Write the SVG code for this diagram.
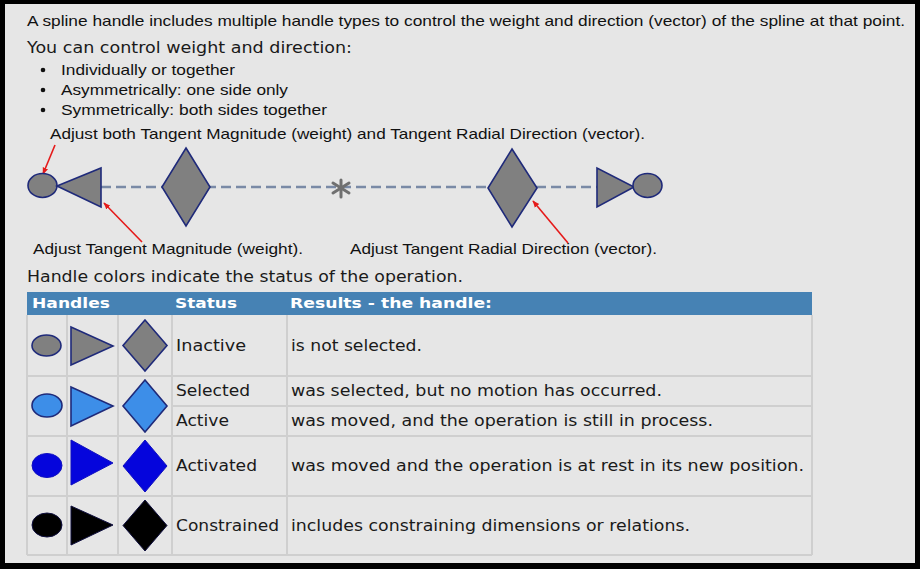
<svg xmlns="http://www.w3.org/2000/svg" width="920" height="569" viewBox="0 0 920 569">
<defs>
<style>
.ar{font-family:"Liberation Sans",Arial,sans-serif;font-size:15px;fill:#111}
.vd{font-family:"DejaVu Sans",Verdana,sans-serif;font-size:15px;fill:#1a1a1a}
.hd{font-family:"DejaVu Sans",Verdana,sans-serif;font-size:14px;font-weight:bold;fill:#ffffff}
.sh{stroke:#1f2a7a;stroke-width:1.6}
.gray{fill:#808080}
.lblue{fill:#3d8ee8}
.blue{fill:#0505dc}
.blk{fill:#000000}
.grid{stroke:#cfcfcf;stroke-width:2;fill:none}
.red{stroke:#e51a1a;stroke-width:1.6;fill:none}
</style>
<marker id="ah" viewBox="0 0 10 10" refX="9" refY="5" markerWidth="7" markerHeight="7" orient="auto" markerUnits="userSpaceOnUse">
<path d="M0,1 L10,5 L0,9 z" fill="#e51a1a"/>
</marker>
</defs>
<rect x="0" y="0" width="920" height="569" fill="#000"/>
<rect x="5" y="4" width="910" height="559" fill="#e6e6e6"/>

<g id="intro">
<text class="ar" x="27" y="26" textLength="878" lengthAdjust="spacingAndGlyphs">A spline handle includes multiple handle types to control the weight and direction (vector) of the spline at that point.</text>
<text class="vd" x="27" y="53" textLength="325" lengthAdjust="spacingAndGlyphs">You can control weight and direction:</text>
<circle cx="43" cy="70" r="2.3" fill="#111"/>
<circle cx="43" cy="90" r="2.3" fill="#111"/>
<circle cx="43" cy="110" r="2.3" fill="#111"/>
<text class="ar" x="61" y="75" textLength="174" lengthAdjust="spacingAndGlyphs">Individually or together</text>
<text class="ar" x="61" y="95" textLength="227" lengthAdjust="spacingAndGlyphs">Asymmetrically: one side only</text>
<text class="ar" x="61" y="115" textLength="266" lengthAdjust="spacingAndGlyphs">Symmetrically: both sides together</text>
</g>

<g id="connectors">
<line x1="101" y1="187" x2="597" y2="187" stroke="#7a8aa6" stroke-width="2.5" stroke-dasharray="10,5"/>
<line class="red" x1="55" y1="145" x2="43" y2="174" marker-end="url(#ah)"/>
<line class="red" x1="142" y1="242" x2="104" y2="203" marker-end="url(#ah)"/>
<line class="red" x1="568" y1="243" x2="533" y2="201" marker-end="url(#ah)"/>
</g>

<g id="handle-left">
<ellipse class="sh gray" cx="42.5" cy="185.5" rx="14.5" ry="12"/>
<polygon class="sh gray" points="57,186 101,168 101,207"/>
</g>
<g id="diamond-left">
<polygon class="sh gray" points="186,148 210,187 186,226 162,187"/>
</g>
<g id="spline-point">
<g stroke="#707070" stroke-width="3" stroke-linecap="round">
<line x1="341" y1="180" x2="341" y2="197"/>
<line x1="333" y1="183" x2="349" y2="193"/>
<line x1="333" y1="193" x2="349" y2="183"/>
</g>
</g>
<g id="diamond-right">
<polygon class="sh gray" points="512,149 537,188 512,227 488,188"/>
</g>
<g id="handle-right">
<polygon class="sh gray" points="597,168 597,207 634,187"/>
<ellipse class="sh gray" cx="647.5" cy="185.5" rx="14.5" ry="12"/>
</g>

<g id="labels">
<text class="ar" x="50" y="139" textLength="595" lengthAdjust="spacingAndGlyphs">Adjust both Tangent Magnitude (weight) and Tangent Radial Direction (vector).</text>
<text class="ar" x="33" y="254" textLength="270" lengthAdjust="spacingAndGlyphs">Adjust Tangent Magnitude (weight).</text>
<text class="ar" x="350" y="254" textLength="307" lengthAdjust="spacingAndGlyphs">Adjust Tangent Radial Direction (vector).</text>
<text class="vd" x="27" y="282" textLength="436" lengthAdjust="spacingAndGlyphs">Handle colors indicate the status of the operation.</text>
</g>

<g id="table">
<rect x="27" y="292" width="785" height="23" fill="#4682b4"/>
<text class="hd" x="32" y="308" textLength="78" lengthAdjust="spacingAndGlyphs">Handles</text>
<text class="hd" x="175" y="308" textLength="62" lengthAdjust="spacingAndGlyphs">Status</text>
<text class="hd" x="290" y="308" textLength="202" lengthAdjust="spacingAndGlyphs">Results - the handle:</text>
<path class="grid" d="M27,315 V555 M67,315 V555 M118,315 V555 M172,315 V555 M287,315 V555 M812,315 V555 M27,376 H812 M172,406 H812 M27,436 H812 M27,496 H812 M27,555 H812"/>
</g>

<g id="row-inactive">
<ellipse class="sh gray" cx="46.5" cy="345.5" rx="14.5" ry="10.5"/>
<polygon class="sh gray" points="71,327 113,346 71,365"/>
<polygon class="sh gray" points="145,320 167,345.5 145,371 123,345.5"/>
<text class="vd" x="176" y="351" textLength="70" lengthAdjust="spacingAndGlyphs">Inactive</text>
<text class="vd" x="291" y="351" textLength="131" lengthAdjust="spacingAndGlyphs">is not selected.</text>
</g>

<g id="row-selected-active">
<ellipse class="sh lblue" cx="47" cy="405.5" rx="15" ry="11.5"/>
<polygon class="sh lblue" points="71,387 113,406 71,426"/>
<polygon class="sh lblue" points="145,380 167,406 145,432 123,406"/>
<text class="vd" x="176" y="396" textLength="74" lengthAdjust="spacingAndGlyphs">Selected</text>
<text class="vd" x="291" y="396" textLength="371" lengthAdjust="spacingAndGlyphs">was selected, but no motion has occurred.</text>
<text class="vd" x="176" y="426" textLength="53" lengthAdjust="spacingAndGlyphs">Active</text>
<text class="vd" x="291" y="426" textLength="422" lengthAdjust="spacingAndGlyphs">was moved, and the operation is still in process.</text>
</g>

<g id="row-activated">
<ellipse class="blue" cx="47" cy="465.5" rx="15" ry="12" stroke="#1010c0" stroke-width="1"/>
<polygon class="blue" points="71,440 113,463 71,485" stroke="#1010c0" stroke-width="1"/>
<polygon class="blue" points="145,440 167,466 145,492 123,466" stroke="#1010c0" stroke-width="1"/>
<text class="vd" x="176" y="471" textLength="81" lengthAdjust="spacingAndGlyphs">Activated</text>
<text class="vd" x="291" y="471" textLength="513" lengthAdjust="spacingAndGlyphs">was moved and the operation is at rest in its new position.</text>
</g>

<g id="row-constrained">
<ellipse class="blk" cx="47" cy="525" rx="15" ry="12" stroke="#101040" stroke-width="1"/>
<polygon class="blk" points="71,506 113,525 71,545" stroke="#101040" stroke-width="1"/>
<polygon class="blk" points="145,500 167,525.5 145,551 123,525.5" stroke="#101040" stroke-width="1"/>
<text class="vd" x="176" y="531" textLength="103" lengthAdjust="spacingAndGlyphs">Constrained</text>
<text class="vd" x="291" y="531" textLength="399" lengthAdjust="spacingAndGlyphs">includes constraining dimensions or relations.</text>
</g>
</svg>
